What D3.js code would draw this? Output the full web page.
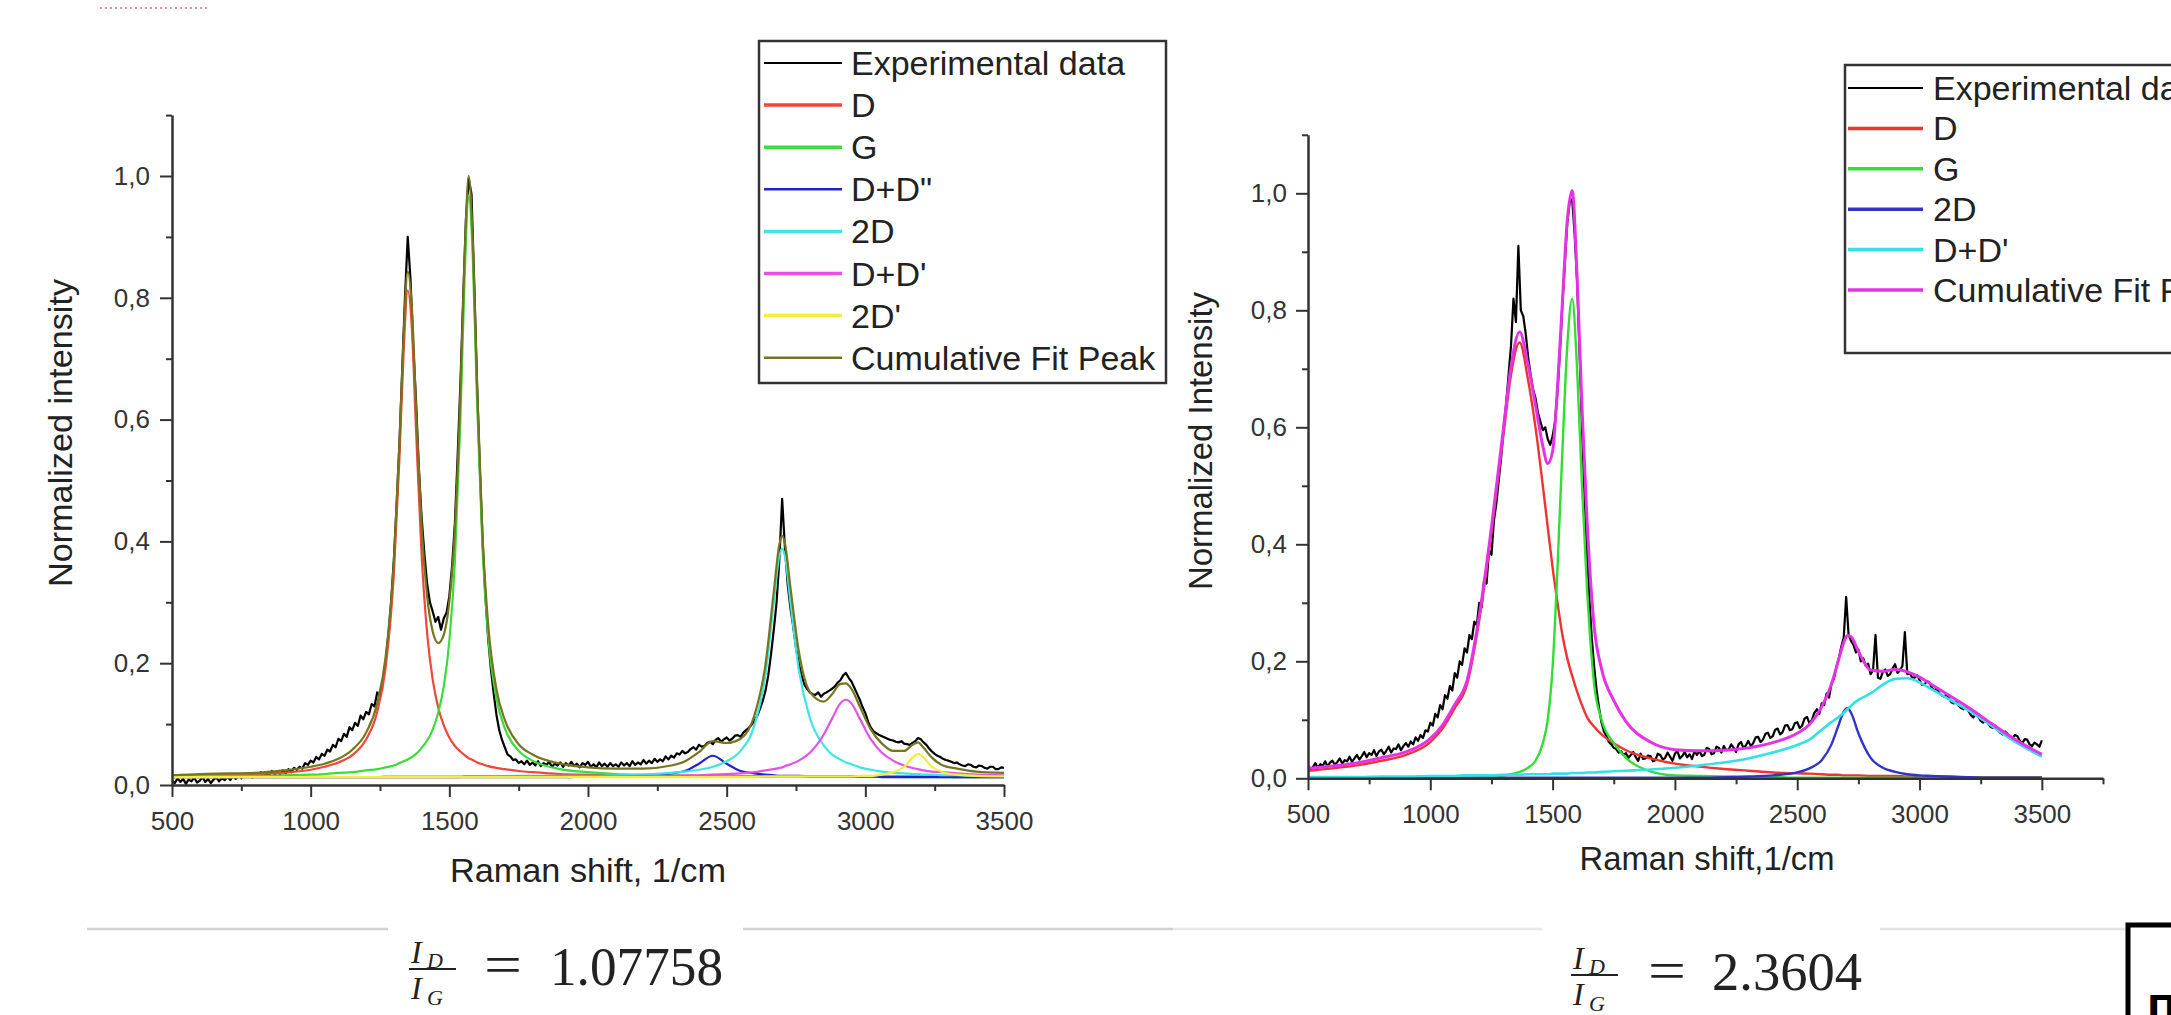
<!DOCTYPE html>
<html><head><meta charset="utf-8">
<script src="https://cdn.jsdelivr.net/npm/d3@7/dist/d3.min.js"></script>
<style>html,body{margin:0;padding:0;background:#fff;}svg{display:block;}</style>
</head><body>
<svg id="c" width="2171" height="1015"></svg>
<script>
// ---------------- LEFT CHART DATA ----------------
const leftFitX = [500,600,700,800,900,1000,1050,1100,1150,1200,
 1240,1270,1300,1320,1335,1350,1365,1380,1400,1420,
 1440,1460,1480,1500,1520,1540,1555,1570,1585,1600,
 1620,1640,1670,1700,1750,1800,1900,2000,2100,2200,
 2300,2350,2400,2450,2500,2550,2600,2640,2670,2690,
 2700,2710,2730,2760,2800,2850,2880,2910,2930,2950,
 2980,3020,3060,3100,3140,3170,3190,3210,3240,3280,
 3330,3400,3500];
const leftD = [.015,.016,.017,.018,.020,.025,.030,.037,.049,.075,
 .120,.192,.347,.536,.709,.812,.749,.582,.378,.249,
 .173,.127,.098,.078,.064,.055,.049,.044,.041,.037,
 .034,.031,.028,.026,.023,.021,.018,.017,.016,.015,
 .015,.015,.015,.015,.014,.014,.014,.014,.014,.014,
 .014,.014,.014,.014,.014,.014,.014,.014,.014,.014,
 .014,.014,.014,.014,.014,.014,.014,.014,.014,.014,
 .013,.013,.013];
const leftG = [.014,.015,.015,.015,.016,.017,.018,.020,.021,.024,
 .026,.029,.032,.036,.039,.042,.046,.051,.061,.073,
 .091,.119,.162,.236,.367,.601,.831,.968,.859,.628,
 .385,.245,.142,.093,.056,.040,.026,.021,.018,.017,
 .016,.015,.015,.015,.015,.014,.014,.014,.014,.014,
 .014,.014,.014,.014,.014,.014,.014,.014,.014,.014,
 .014,.014,.014,.014,.013,.013,.013,.013,.013,.013,
 .013,.013,.013];
const leftDD2 = [.013,.013,.013,.013,.013,.013,.013,.013,.013,.013,
 .013,.013,.013,.013,.013,.013,.013,.013,.013,.013,
 .013,.013,.013,.013,.013,.013,.013,.013,.013,.013,
 .013,.013,.013,.013,.013,.013,.013,.014,.014,.015,
 .019,.023,.035,.048,.035,.023,.019,.017,.016,.015,
 .015,.015,.015,.015,.014,.014,.014,.014,.014,.014,
 .014,.014,.013,.013,.013,.013,.013,.013,.013,.013,
 .013,.013,.013];
const left2D = [.013,.013,.013,.013,.013,.013,.013,.013,.013,.013,
 .013,.014,.014,.014,.014,.014,.014,.014,.014,.014,
 .014,.014,.014,.014,.014,.014,.014,.014,.014,.014,
 .014,.014,.014,.014,.015,.015,.015,.015,.016,.017,
 .020,.022,.025,.030,.039,.056,.098,.181,.300,.376,
 .388,.376,.300,.190,.110,.065,.050,.042,.037,.034,
 .029,.025,.022,.020,.019,.018,.018,.017,.017,.016,
 .016,.015,.015];
const leftDD1 = [.013,.013,.013,.013,.013,.013,.013,.013,.013,.013,
 .013,.013,.013,.013,.013,.013,.013,.013,.013,.013,
 .013,.013,.013,.013,.013,.013,.014,.014,.014,.014,
 .014,.014,.014,.014,.014,.014,.014,.014,.014,.015,
 .015,.016,.016,.017,.018,.019,.021,.024,.026,.028,
 .029,.031,.034,.040,.053,.083,.109,.134,.140,.134,
 .109,.075,.053,.040,.032,.028,.026,.024,.022,.021,
 .019,.017,.016];
const left2Dp = [.013,.013,.013,.013,.013,.013,.013,.013,.013,.013,
 .013,.013,.013,.013,.013,.013,.013,.013,.013,.013,
 .013,.013,.013,.013,.013,.013,.013,.013,.013,.013,
 .013,.013,.013,.013,.013,.013,.013,.013,.013,.013,
 .013,.013,.013,.013,.013,.013,.013,.014,.014,.014,
 .014,.014,.014,.014,.014,.014,.014,.014,.014,.014,
 .015,.015,.017,.021,.030,.045,.051,.045,.030,.021,
 .017,.015,.014];
const leftCum = [.016,.018,.019,.020,.024,.030,.035,.043,.058,.086,
 .134,.209,.367,.559,.735,.843,.783,.621,.426,.310,
 .252,.233,.247,.301,.419,.643,.867,1.000,.887,.653,
 .406,.264,.157,.107,.067,.050,.035,.029,.027,.027,
 .032,.039,.054,.072,.069,.076,.114,.198,.318,.395,
 .409,.397,.324,.220,.153,.137,.149,.166,.167,.158,
 .129,.091,.068,.056,.056,.066,.070,.061,.045,.032,
 .027,.022,.020];
// experimental data: 500..3500, step 10
const leftExpStart = 500, leftExpStep = 10;
const leftExp = [
 .008,.003,.011,.005,.010,.002,.009,.006,.012,.004,.007,.013,.005,.010,.003,.009,.012,.006,.011,.008,
 .014,.008,.015,.010,.017,.011,.016,.013,.019,.012,.018,.015,.021,.014,.019,.016,.023,.017,.021,.018,
 .024,.019,.026,.021,.028,.025,.030,.027,.036,.033,.040,.037,.046,.042,.051,.048,.058,.055,.066,.062,
 .076,.072,.084,.079,.095,.090,.102,.097,.114,.108,.120,.116,.133,.129,.152,.147,.172,.200,.245,.300,
 .370,.460,.560,.680,.800,.900,.830,.720,.630,.520,.440,.380,.330,.300,.285,.268,.276,.255,.274,.283,
 .310,.360,.430,.540,.660,.800,.930,.995,.970,.820,.660,.520,.400,.310,.240,.190,.150,.115,.090,.074,
 .062,.050,.047,.041,.042,.036,.039,.034,.040,.033,.037,.032,.039,.031,.036,.033,.038,.030,.035,.032,
 .037,.030,.036,.032,.038,.031,.035,.029,.036,.033,.038,.030,.034,.029,.037,.031,.035,.030,.036,.031,
 .034,.030,.037,.032,.036,.031,.039,.033,.037,.034,.041,.035,.040,.036,.043,.038,.042,.039,.047,.042,
 .048,.045,.052,.050,.056,.052,.054,.059,.062,.058,.066,.063,.064,.069,.071,.067,.074,.077,.071,.075,
 .078,.073,.076,.081,.082,.079,.086,.090,.094,.099,.105,.113,.125,.138,.155,.180,.215,.255,.300,.370,
 .470,.390,.330,.290,.260,.225,.200,.180,.165,.158,.152,.149,.148,.152,.145,.150,.152,.155,.158,.162,
 .168,.172,.180,.184,.176,.170,.160,.150,.140,.128,.118,.104,.094,.088,.085,.082,.080,.078,.076,.074,
 .073,.071,.070,.072,.068,.067,.066,.069,.072,.077,.075,.070,.066,.060,.055,.051,.048,.046,.043,.041,
 .040,.038,.036,.037,.034,.032,.031,.034,.033,.030,.029,.032,.031,.028,.027,.030,.030,.026,.026,.029,
 .028];
const leftNames = ['Experimental data','D','G','D+D"','2D',"D+D'","2D'",'Cumulative Fit Peak'];
const leftColors = ['#000000','#f0463c','#3cdc3c','#2323c8','#3ce6e6','#e650e6','#f0f03c','#75751e'];

// ---------------- RIGHT CHART DATA ----------------
const rightFitX = [500,600,700,800,900,1000,1050,1100,1150,1200,
 1250,1300,1330,1365,1400,1430,1460,1480,1500,1520,
 1540,1560,1580,1600,1620,1640,1670,1700,1750,1800,
 1900,2000,2100,2200,2300,2400,2500,2550,2600,2640,
 2670,2690,2705,2720,2750,2800,2850,2900,2950,3000,
 3050,3100,3200,3300,3400,3500];
const rightD = [.013,.017,.022,.030,.040,.062,.085,.120,.160,.270,
 .420,.590,.690,.745,.680,.600,.500,.430,.360,.300,
 .245,.205,.175,.148,.125,.105,.088,.075,.060,.048,
 .034,.025,.020,.016,.013,.010,.0085,.008,.007,.006,
 .006,.005,.005,.005,.005,.004,.004,.004,.003,.003,
 .003,.003,.002,.002,.002,.002];
const rightG = [.001,.001,.001,.001,.001,.001,.001,.001,.001,.002,
 .003,.005,.007,.011,.018,.030,.060,.100,.190,.360,
 .560,.740,.820,.700,.500,.330,.160,.100,.060,.035,
 .012,.005,.004,.003,.002,.002,.001,.001,.001,.001,
 .001,.001,.001,.001,.001,.001,.001,.001,.001,.001,
 .001,.001,.001,.001,.001,.001];
const right2D = [.001,.001,.001,.001,.001,.001,.001,.001,.001,.001,
 .001,.001,.001,.001,.001,.001,.001,.001,.001,.001,
 .001,.001,.001,.001,.001,.001,.001,.001,.001,.001,
 .001,.001,.001,.002,.003,.005,.010,.017,.031,.058,
 .092,.114,.120,.112,.077,.035,.018,.011,.007,.005,
 .004,.003,.002,.001,.001,.001];
const rightDD = [.002,.002,.002,.003,.003,.004,.004,.004,.005,.005,
 .005,.006,.006,.006,.007,.007,.007,.007,.008,.008,
 .008,.008,.009,.009,.009,.010,.010,.011,.012,.013,
 .015,.018,.022,.027,.034,.044,.057,.066,.083,.096,
 .105,.112,.118,.124,.134,.145,.160,.170,.171,.164,
 .152,.140,.116,.088,.060,.037];
const rightCum = [.017,.021,.026,.035,.045,.068,.091,.126,.167,.278,
 .429,.602,.704,.763,.706,.638,.568,.538,.559,.669,
 .814,.954,1.005,.858,.635,.446,.259,.187,.133,.097,
 .062,.049,.047,.048,.052,.061,.077,.092,.122,.161,
 .204,.232,.244,.242,.217,.185,.183,.186,.182,.173,
 .160,.147,.121,.092,.064,.041];
const rightExpStart = 500, rightExpStep = 10;
const rightExp = [
 .022,.015,.019,.026,.018,.024,.021,.029,.020,.027,.030,.023,.028,.034,.025,.031,.029,.037,.028,.034,
 .040,.032,.038,.045,.036,.043,.040,.048,.038,.046,.049,.041,.047,.054,.044,.051,.050,.058,.048,.055,
 .060,.054,.063,.058,.070,.064,.074,.069,.082,.080,.095,.090,.110,.104,.125,.118,.142,.136,.158,.150,
 .180,.172,.200,.194,.222,.215,.245,.238,.268,.262,.300,.292,.340,.333,.390,.382,.440,.470,.510,.550,
 .600,.640,.690,.740,.820,.780,.910,.800,.790,.760,.720,.690,.665,.650,.625,.610,.595,.600,.580,.570,
 .585,.610,.660,.730,.810,.880,.950,.985,.990,.930,.850,.730,.600,.490,.390,.310,.240,.190,.150,.120,
 .095,.080,.072,.062,.058,.052,.050,.044,.046,.040,.043,.035,.040,.045,.036,.030,.042,.033,.034,.039,
 .038,.029,.031,.042,.040,.032,.035,.044,.037,.030,.042,.047,.034,.038,.045,.036,.041,.033,.046,.040,
 .047,.038,.040,.052,.050,.041,.043,.054,.052,.044,.055,.048,.049,.058,.052,.045,.058,.062,.052,.056,
 .064,.055,.060,.070,.071,.062,.066,.076,.078,.069,.072,.083,.085,.075,.079,.090,.091,.082,.084,.094,
 .096,.086,.090,.102,.105,.094,.100,.112,.118,.110,.128,.125,.145,.138,.162,.170,.190,.205,.225,.240,
 .310,.245,.235,.228,.215,.220,.200,.205,.192,.196,.178,.185,.245,.172,.170,.182,.186,.175,.178,.188,
 .195,.180,.185,.192,.250,.178,.180,.172,.172,.176,.168,.160,.160,.166,.164,.155,.150,.154,.146,.142,
 .140,.143,.137,.130,.128,.132,.124,.120,.118,.122,.115,.108,.104,.110,.106,.098,.095,.099,.094,.088,
 .086,.090,.083,.078,.075,.080,.076,.070,.069,.074,.072,.064,.060,.067,.066,.058,.055,.061,.058,.054,
 .065];
const rightNames = ['Experimental data','D','G','2D',"D+D'",'Cumulative Fit Peak'];
const rightColors = ['#000000','#ee3333','#33dd33','#3333cc','#33e0e8','#e632e6'];

// tick labels
const yTickValues = [0,0.2,0.4,0.6,0.8,1.0];
const yTickLabels = ['0,0','0,2','0,4','0,6','0,8','1,0'];
const yMinorValues = [0.1,0.3,0.5,0.7,0.9,1.1];
const xTickValues = [500,1000,1500,2000,2500,3000,3500];
const xTickLabels = ['500','1000','1500','2000','2500','3000','3500'];

// ---------------- DRAWING ----------------
const svg = d3.select('#c');
const SANS = '"Liberation Sans", Arial, sans-serif';
const SERIF = '"Liberation Serif", "Times New Roman", serif';

function drawChart(o){
  const x = d3.scaleLinear().domain(o.xDomain).range(o.xRange);
  const y = d3.scaleLinear().domain([0,1.1]).range(o.yRange);
  const g = svg.append('g');
  const clipId = o.id + '-clip';
  svg.append('clipPath').attr('id', clipId).append('rect')
    .attr('x', o.xRange[0]).attr('y', o.yRange[1])
    .attr('width', o.xRange[1]-o.xRange[0]).attr('height', o.yRange[0]-o.yRange[1]);
  const plot = g.append('g').attr('clip-path', `url(#${clipId})`);
  const smooth = d3.line().x(d=>x(d[0])).y(d=>y(d[1])).curve(d3.curveMonotoneX);
  const raw = d3.line().x(d=>x(d[0])).y(d=>y(d[1]));
  plot.append('path')
    .datum(o.exp.map((v,i)=>[o.expStart + i*o.expStep, v]))
    .attr('d', raw).attr('fill','none').attr('stroke', o.colors[0])
    .attr('stroke-width', 2.2).attr('stroke-linejoin','round');
  o.fits.forEach((vals,k)=>{
    plot.append('path')
      .datum(o.fitX.map((xx,i)=>[xx, vals[i]]))
      .attr('d', smooth).attr('fill','none').attr('stroke', o.colors[k+1])
      .attr('stroke-width', o.widths[k+1]);
  });
  const axisColor = '#333';
  const xa = g.append('g').attr('transform',`translate(0,${o.yRange[0]})`)
    .call(d3.axisBottom(x).tickValues(o.xMinor).tickFormat('').tickSize(6).tickSizeOuter(0));
  xa.select('.domain').remove();
  const xb = g.append('g').attr('transform',`translate(0,${o.yRange[0]})`)
    .call(d3.axisBottom(x).tickValues(xTickValues).tickFormat((d,i)=>xTickLabels[i])
      .tickSize(12).tickPadding(o.xPad).tickSizeOuter(0));
  const ya = g.append('g').attr('transform',`translate(${o.xRange[0]},0)`)
    .call(d3.axisLeft(y).tickValues(yMinorValues).tickFormat('').tickSize(6).tickSizeOuter(0));
  ya.select('.domain').remove();
  const yb = g.append('g').attr('transform',`translate(${o.xRange[0]},0)`)
    .call(d3.axisLeft(y).tickValues(yTickValues).tickFormat((d,i)=>yTickLabels[i])
      .tickSize(12).tickPadding(o.yPad).tickSizeOuter(0));
  [xa,xb,ya,yb].forEach(a=>{
    a.selectAll('.domain').attr('stroke',axisColor).attr('stroke-width',2.5);
    a.selectAll('.tick line').attr('stroke',axisColor).attr('stroke-width',2);
    a.selectAll('text').attr('font-family',SANS).attr('font-size',26).attr('fill','#333');
  });
  g.append('text').attr('x', o.xTitlePos[0]).attr('y', o.xTitlePos[1])
    .attr('text-anchor','middle').attr('font-family',SANS).attr('font-size',33)
    .attr('textLength',o.xTitleLen).attr('lengthAdjust','spacingAndGlyphs')
    .attr('fill','#222').text(o.xTitle);
  g.append('text').attr('transform',`translate(${o.yTitlePos[0]},${o.yTitlePos[1]}) rotate(-90)`)
    .attr('text-anchor','middle').attr('font-family',SANS).attr('font-size',33)
    .attr('textLength',o.yTitleLen).attr('lengthAdjust','spacingAndGlyphs')
    .attr('fill','#222').text(o.yTitle);
  const L = o.legend;
  const lg = svg.append('g');
  lg.append('rect').attr('x',L.x).attr('y',L.y).attr('width',L.w).attr('height',L.h)
    .attr('fill','#fff').attr('stroke','#333').attr('stroke-width',2.5);
  o.names.forEach((n,i)=>{
    const yy = L.row0 + i*L.dy;
    lg.append('line').attr('x1',L.lx1).attr('x2',L.lx2).attr('y1',yy).attr('y2',yy)
      .attr('stroke',o.colors[i]).attr('stroke-width',o.legendWidths[i]);
    lg.append('text').attr('x',L.tx).attr('y',yy+12).attr('font-family',SANS)
      .attr('font-size',L.fs).attr('fill','#222').text(n);
  });
}

drawChart({
  id:'left', xDomain:[500,3500], xRange:[172,1004], yRange:[785,115.1],
  xMinor:[750,1250,1750,2250,2750,3250], xPad:15, yPad:10,
  fitX:leftFitX, fits:[leftD,leftG,leftDD2,left2D,leftDD1,left2Dp,leftCum],
  exp:leftExp, expStart:leftExpStart, expStep:leftExpStep,
  colors:leftColors, widths:[2,2.2,2.2,2.2,2.2,2.2,2.2,2.2],
  names:leftNames, legendWidths:[2,3.5,3.5,2.5,3.5,3.5,3.5,2.5],
  xTitle:'Raman shift, 1/cm', xTitlePos:[588,882], xTitleLen:276,
  yTitle:'Normalized intensity', yTitlePos:[72,433], yTitleLen:308,
  legend:{x:759,y:41,w:407,h:342,row0:63,dy:42.1,lx1:764,lx2:842,tx:851,fs:34}
});
drawChart({
  id:'right', xDomain:[500,3750], xRange:[1308,2103], yRange:[778.3,134.8],
  xMinor:[750,1250,1750,2250,2750,3250,3750], xPad:14, yPad:9,
  fitX:rightFitX, fits:[rightD,rightG,right2D,rightDD,rightCum],
  exp:rightExp, expStart:rightExpStart, expStep:rightExpStep,
  colors:rightColors, widths:[2,2.4,2.4,2.4,2.6,3],
  names:rightNames, legendWidths:[2,3.5,3.5,3.5,3.5,3.5],
  xTitle:'Raman shift,1/cm', xTitlePos:[1707,870], xTitleLen:255,
  yTitle:'Normalized Intensity', yTitlePos:[1212,441], yTitleLen:298,
  legend:{x:1845,y:65,w:400,h:288,row0:88,dy:40.4,lx1:1848,lx2:1923,tx:1933,fs:34}
});

// ---------------- PAGE DECORATIONS ----------------
svg.append('line').attr('x1',100).attr('x2',210).attr('y1',8).attr('y2',8)
  .attr('stroke','#e07070').attr('stroke-width',1.5).attr('stroke-dasharray','2,3');
const seps = [[87,388,'#d2d2d2'],[743,1173,'#d2d2d2'],[1173,1542,'#e8e8e8'],[1880,2125,'#e2e2e2']];
seps.forEach(s=>svg.append('line').attr('x1',s[0]).attr('x2',s[1]).attr('y1',929).attr('y2',929)
  .attr('stroke',s[2]).attr('stroke-width',2.5));
function formula(o){
  const g = svg.append('g').attr('fill','#222').attr('font-family',SERIF);
  g.append('text').attr('x',o.fx).attr('y',o.by-6).attr('font-size',32).attr('font-style','italic').text('I');
  g.append('text').attr('x',o.fx+16).attr('y',o.by-1).attr('font-size',22).attr('font-style','italic').text('D');
  g.append('line').attr('x1',o.fx-2).attr('x2',o.fx+45).attr('y1',o.by).attr('y2',o.by)
    .attr('stroke','#222').attr('stroke-width',2);
  g.append('text').attr('x',o.fx).attr('y',o.by+30).attr('font-size',32).attr('font-style','italic').text('I');
  g.append('text').attr('x',o.fx+16).attr('y',o.by+36).attr('font-size',22).attr('font-style','italic').text('G');
  g.append('text').attr('x',o.ex).attr('y',o.by+14).attr('font-size',54)
    .attr('textLength',38).attr('lengthAdjust','spacingAndGlyphs').text('=');
  g.append('text').attr('x',o.nx).attr('y',o.nb).attr('font-size',54)
    .attr('textLength',o.nw).attr('lengthAdjust','spacingAndGlyphs').text(o.value);
}
formula({fx:411, by:969, ex:484, nx:550, nb:985, nw:173, value:'1.07758'});
formula({fx:1573, by:975, ex:1648, nx:1712, nb:990, nw:150, value:'2.3604'});
svg.append('rect').attr('x',2128).attr('y',925).attr('width',120).attr('height',150)
  .attr('fill','#fff').attr('stroke','#000').attr('stroke-width',5);
svg.append('text').attr('x',2147).attr('y',1021).attr('font-family','"DejaVu Sans", sans-serif')
  .attr('font-size',36).attr('font-weight','bold').attr('fill','#000').text('П');
</script>
</body></html>
